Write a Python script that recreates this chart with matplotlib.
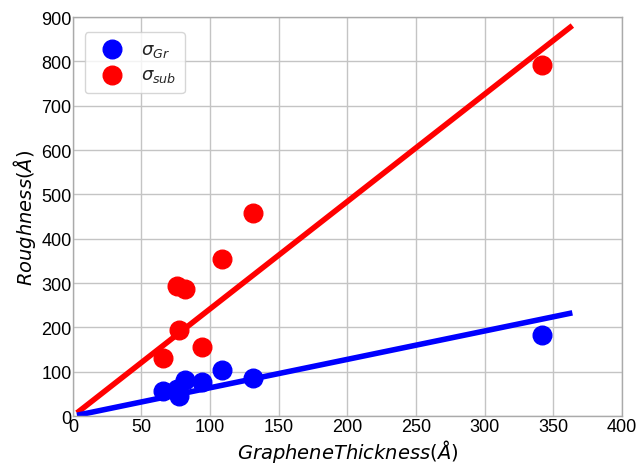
import numpy as np
import matplotlib
matplotlib.use('Agg')
import matplotlib.pyplot as plt

# graphene thickness (Angstrom) and fitted roughness values
thickness = [66, 76, 82, 77, 94, 109, 131, 342]
sigma_sub = [130, 294, 287, 195, 157, 355, 458, 792]
sigma_gr = [57, 62, 82, 46, 76, 104, 86, 183]

fit_x = [3, 364]
slope_sub = 2.42
slope_gr = 0.64

plt.style.use('seaborn-v0_8-whitegrid')
fig = plt.figure(figsize=(6.39, 4.64), dpi=100)
ax = fig.add_axes([0.114, 0.101, 0.859, 0.86])

ax.plot(fit_x, [slope_sub * x for x in fit_x], color='red', lw=4, solid_capstyle='butt')
ax.plot(fit_x, [slope_gr * x for x in fit_x], color='blue', lw=4, solid_capstyle='butt')
ax.scatter(thickness, sigma_gr, s=180, color='blue', label=r'$\sigma_{Gr}$', zorder=3)
ax.scatter(thickness, sigma_sub, s=180, color='red', label=r'$\sigma_{sub}$', zorder=3)

ax.set_xlim(0, 400)
ax.set_ylim(0, 900)
ax.set_xticks(np.arange(0, 401, 50))
ax.set_yticks(np.arange(0, 901, 100))
ax.tick_params(labelsize=13, pad=1, labelcolor='black')
ax.set_xlabel(r'$GrapheneThickness(\AA)$', fontsize=14, labelpad=2, color='black')
ax.set_ylabel(r'$Roughness(\AA)$', fontsize=14, labelpad=2, color='black')
for s in ax.spines.values():
    s.set_visible(True)
    s.set_color('#aaaaaa')
ax.grid(color='#c4c4c4', lw=1)
ax.legend(loc='upper left', fontsize=13, frameon=True, borderpad=0.5,
          labelspacing=0.4, handletextpad=0.6, bbox_to_anchor=(0.005, 0.985))

fig.savefig('out.png', dpi=100)
